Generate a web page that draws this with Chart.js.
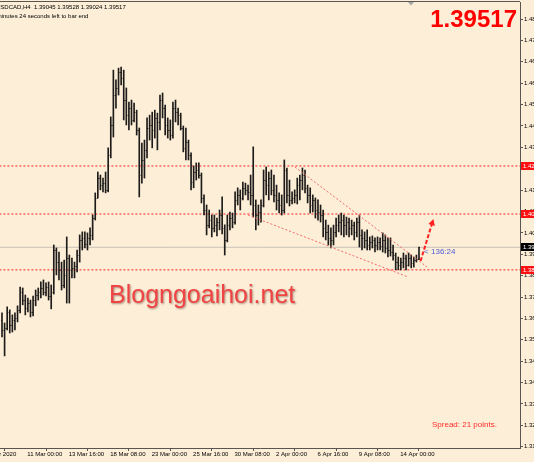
<!DOCTYPE html>
<html>
<head>
<meta charset="utf-8">
<script src="https://cdn.jsdelivr.net/npm/chart.js@4.4.1/dist/chart.umd.min.js"></script>
<style>
  html, body { margin: 0; padding: 0; background: #fdeed7; }
  #wrap { width: 534px; height: 462px; }
</style>
</head>
<body>
<div id="wrap"><canvas id="chart" width="534" height="462"></canvas></div>
<script>
// USDCAD, H4 - one entry per bar, 9 Mar 12:00 .. 15 Apr 08:00 (2020)
const opens = [
  1.3663, 1.3623, 1.3631, 1.3695, 1.3643, 1.3663, 1.3671, 1.3703, 1.3774, 1.3742,
  1.3710, 1.3730, 1.3695, 1.3742, 1.3762, 1.3774, 1.3790, 1.3774, 1.3794, 1.3758,
  1.3774, 1.3941, 1.3893, 1.3862, 1.3802, 1.3842, 1.3909, 1.3862, 1.3870, 1.3877,
  1.3921, 1.3981, 1.3989, 1.3965, 1.3989, 1.4001, 1.4068, 1.4148, 1.4227, 1.4199,
  1.4207, 1.4180, 1.4319, 1.4438, 1.4557, 1.4585, 1.4648, 1.4625, 1.4537, 1.4477,
  1.4505, 1.4458, 1.4489, 1.4418, 1.4239, 1.4299, 1.4339, 1.4426, 1.4438, 1.4418,
  1.4466, 1.4450, 1.4537, 1.4505, 1.4438, 1.4418, 1.4398, 1.4505, 1.4489, 1.4477,
  1.4426, 1.4347, 1.4370, 1.4319, 1.4211, 1.4251, 1.4259, 1.4239, 1.4148, 1.4100,
  1.4040, 1.4060, 1.4029, 1.4040, 1.4052, 1.4080, 1.4029, 1.3981, 1.4040, 1.4068,
  1.4052, 1.4140, 1.4160, 1.4148, 1.4188, 1.4180, 1.4172, 1.4160, 1.4120, 1.4080,
  1.4092, 1.4120, 1.4219, 1.4199, 1.4227, 1.4180, 1.4160, 1.4140, 1.4120, 1.4100,
  1.4259, 1.4160, 1.4140, 1.4148, 1.4160, 1.4199, 1.4219, 1.4239, 1.4188, 1.4160,
  1.4120, 1.4140, 1.4100, 1.4092, 1.4080, 1.4029, 1.4013, 1.3989, 1.3981, 1.4013,
  1.4040, 1.4052, 1.4060, 1.4040, 1.4052, 1.4029, 1.4040, 1.4013, 1.4052, 1.4001,
  1.3989, 1.3981, 1.3961, 1.3973, 1.3981, 1.3961, 1.3973, 1.3957, 1.3981, 1.3949,
  1.3941, 1.3933, 1.3921, 1.3893, 1.3881, 1.3893, 1.3909, 1.3881, 1.3909, 1.3889,
  1.3901, 1.39045
];
const highs = [
  1.3691, 1.3651, 1.3715, 1.3703, 1.3683, 1.3691, 1.3719, 1.3794, 1.3790, 1.3762,
  1.3750, 1.3742, 1.3758, 1.3782, 1.3790, 1.3814, 1.3822, 1.3810, 1.3814, 1.3802,
  1.3961, 1.3949, 1.3933, 1.3893, 1.3901, 1.3993, 1.3921, 1.3909, 1.3893, 1.3941,
  1.4001, 1.4013, 1.4013, 1.4009, 1.4029, 1.4080, 1.4168, 1.4251, 1.4239, 1.4227,
  1.4251, 1.4347, 1.4470, 1.4656, 1.4617, 1.4664, 1.4668, 1.4656, 1.4585, 1.4529,
  1.4537, 1.4525, 1.4497, 1.4426, 1.4366, 1.4378, 1.4466, 1.4477, 1.4489, 1.4497,
  1.4485, 1.4557, 1.4565, 1.4517, 1.4466, 1.4458, 1.4529, 1.4537, 1.4505, 1.4485,
  1.4434, 1.4426, 1.4378, 1.4327, 1.4275, 1.4287, 1.4287, 1.4247, 1.4160, 1.4120,
  1.4100, 1.4080, 1.4080, 1.4068, 1.4100, 1.4152, 1.4041, 1.4080, 1.4092, 1.4088,
  1.4172, 1.4188, 1.4180, 1.4211, 1.4207, 1.4199, 1.4239, 1.4351, 1.4140, 1.4120,
  1.4140, 1.4259, 1.4271, 1.4251, 1.4259, 1.4239, 1.4199, 1.4168, 1.4160, 1.4299,
  1.4267, 1.4219, 1.4172, 1.4180, 1.4227, 1.4239, 1.4267, 1.4259, 1.4199, 1.4188,
  1.4160, 1.4148, 1.4140, 1.4120, 1.4100, 1.4060, 1.4040, 1.4029, 1.4040, 1.4068,
  1.4080, 1.4088, 1.4080, 1.4072, 1.4068, 1.4060, 1.4052, 1.4068, 1.4080, 1.4021,
  1.4013, 1.4021, 1.3993, 1.3997, 1.3989, 1.3993, 1.3989, 1.4009, 1.4001, 1.3989,
  1.3989, 1.3961, 1.3929, 1.3913, 1.3909, 1.3929, 1.3921, 1.3929, 1.3921, 1.3913,
  1.3921, 1.39528
];
const lows = [
  1.3595, 1.3520, 1.3623, 1.3611, 1.3615, 1.3623, 1.3655, 1.3691, 1.3723, 1.3683,
  1.3695, 1.3675, 1.3679, 1.3719, 1.3742, 1.3750, 1.3762, 1.3758, 1.3742, 1.3707,
  1.3766, 1.3842, 1.3822, 1.3782, 1.3790, 1.3730, 1.3730, 1.3830, 1.3830, 1.3854,
  1.3893, 1.3941, 1.3949, 1.3941, 1.3961, 1.3981, 1.4060, 1.4148, 1.4180, 1.4172,
  1.4168, 1.4172, 1.4307, 1.4390, 1.4505, 1.4557, 1.4597, 1.4458, 1.4438, 1.4418,
  1.4438, 1.4450, 1.4398, 1.4152, 1.4207, 1.4227, 1.4307, 1.4378, 1.4347, 1.4386,
  1.4339, 1.4418, 1.4466, 1.4398, 1.4386, 1.4378, 1.4386, 1.4450, 1.4438, 1.4418,
  1.4331, 1.4299, 1.4299, 1.4180, 1.4188, 1.4219, 1.4227, 1.4128, 1.4080, 1.4001,
  1.4029, 1.3993, 1.4013, 1.3997, 1.4021, 1.4005, 1.3921, 1.3973, 1.4021, 1.4029,
  1.4044, 1.4120, 1.4100, 1.4140, 1.4160, 1.4140, 1.4120, 1.4072, 1.4021, 1.4040,
  1.4052, 1.4112, 1.4160, 1.4140, 1.4160, 1.4132, 1.4100, 1.4088, 1.4080, 1.4088,
  1.4128, 1.4116, 1.4124, 1.4128, 1.4124, 1.4140, 1.4180, 1.4168, 1.4128, 1.4088,
  1.4092, 1.4068, 1.4060, 1.4052, 1.3993, 1.3981, 1.3961, 1.3949, 1.3961, 1.3993,
  1.4013, 1.4001, 1.3993, 1.4001, 1.3993, 1.4001, 1.3981, 1.3993, 1.3953, 1.3941,
  1.3949, 1.3941, 1.3941, 1.3949, 1.3933, 1.3941, 1.3941, 1.3933, 1.3929, 1.3913,
  1.3917, 1.3901, 1.3862, 1.3862, 1.3862, 1.3870, 1.3862, 1.3877, 1.3870, 1.3873,
  1.3893, 1.39024
];
const closes = [
  1.3623, 1.3631, 1.3695, 1.3643, 1.3663, 1.3671, 1.3703, 1.3774, 1.3742, 1.3710,
  1.3730, 1.3695, 1.3742, 1.3762, 1.3774, 1.3790, 1.3774, 1.3794, 1.3758, 1.3774,
  1.3941, 1.3893, 1.3862, 1.3802, 1.3842, 1.3909, 1.3862, 1.3870, 1.3877, 1.3921,
  1.3981, 1.3989, 1.3965, 1.3989, 1.4001, 1.4068, 1.4148, 1.4227, 1.4199, 1.4207,
  1.4180, 1.4319, 1.4438, 1.4557, 1.4585, 1.4648, 1.4625, 1.4537, 1.4477, 1.4505,
  1.4458, 1.4489, 1.4418, 1.4239, 1.4299, 1.4339, 1.4426, 1.4438, 1.4418, 1.4466,
  1.4450, 1.4537, 1.4505, 1.4438, 1.4418, 1.4398, 1.4505, 1.4489, 1.4477, 1.4426,
  1.4347, 1.4370, 1.4319, 1.4211, 1.4251, 1.4259, 1.4239, 1.4148, 1.4100, 1.4040,
  1.4060, 1.4029, 1.4040, 1.4052, 1.4080, 1.4029, 1.3981, 1.4040, 1.4068, 1.4052,
  1.4140, 1.4160, 1.4148, 1.4188, 1.4180, 1.4172, 1.4160, 1.4120, 1.4080, 1.4092,
  1.4120, 1.4219, 1.4199, 1.4227, 1.4180, 1.4160, 1.4140, 1.4120, 1.4100, 1.4259,
  1.4160, 1.4140, 1.4148, 1.4160, 1.4199, 1.4219, 1.4239, 1.4188, 1.4160, 1.4120,
  1.4140, 1.4100, 1.4092, 1.4080, 1.4029, 1.4013, 1.3989, 1.3981, 1.4013, 1.4040,
  1.4052, 1.4060, 1.4040, 1.4052, 1.4029, 1.4040, 1.4013, 1.4052, 1.4001, 1.3989,
  1.3981, 1.3961, 1.3973, 1.3981, 1.3961, 1.3973, 1.3957, 1.3981, 1.3949, 1.3941,
  1.3933, 1.3921, 1.3893, 1.3881, 1.3893, 1.3909, 1.3881, 1.3909, 1.3889, 1.3901,
  1.3905, 1.39517
];

// price axis labels (right side)
const priceTicks = [
  1.3159, 1.3244, 1.3329, 1.3414, 1.3499, 1.3584, 1.3669, 1.3754, 1.3839, 1.3924,
  1.4009, 1.4094, 1.4179, 1.4264, 1.4349, 1.4434, 1.4519, 1.4604, 1.4689, 1.4774, 1.4859
];
// time axis: bar index of each label
const timeTickBars = [-7, 9, 25, 41, 57, 73, 89, 105, 121, 137, 153];
const timeTickLabels = [
  '6 Mar 2020', '11 Mar 00:00', '13 Mar 16:00', '18 Mar 08:00', '23 Mar 00:00',
  '25 Mar 16:00', '30 Mar 08:00', '2 Apr 00:00', '6 Apr 16:00', '9 Apr 08:00', '14 Apr 00:00'
];

// drawn objects
const levels = [1.4275, 1.4084, 1.3862];
const lastPrice = 1.39517;
const channelTop = [[113.1, 1.42709], [164.1, 1.38734]];
const channelBottom = [[95.0, 1.40801], [156.8, 1.38337]];
const arrowPath = [[161.6, 1.3897], [166.0, 1.4045]];

const BG = '#fdeed7';
const BAR = '#1e1c1a';
const AXIS = '#5a5550';
const RED = '#ff2020';
const FONT = 'Liberation Sans, Arial, sans-serif';

const toPts = arr => arr.map(p => ({ x: p[0], y: p[1] }));
const hLine = v => [{ x: -1, y: v }, { x: 200, y: v }];

// keep the plot area flush with the canvas edges, like the terminal
const noPad = s => { s.paddingLeft = 0; s.paddingRight = 0; s.paddingTop = 0; s.paddingBottom = 0; };

const mt4Decor = {
  id: 'mt4Decor',
  beforeDraw(chart) {
    const ctx = chart.ctx;
    ctx.save();
    ctx.fillStyle = BG;
    ctx.fillRect(0, 0, chart.width, chart.height);
    ctx.restore();
  },
  afterDatasetsDraw(chart) {
    const { ctx, chartArea: a, scales: { x, y } } = chart;
    ctx.save();
    ctx.beginPath();
    ctx.rect(a.left, a.top, a.right - a.left, a.bottom - a.top);
    ctx.clip();

    // open / close ticks of each bar
    ctx.strokeStyle = BAR;
    ctx.lineWidth = 1;
    ctx.beginPath();
    opens.forEach((o, i) => {
      const px = x.getPixelForValue(i);
      const yo = Math.round(y.getPixelForValue(o)) + 0.5;
      const yc = Math.round(y.getPixelForValue(closes[i])) + 0.5;
      ctx.moveTo(px - 1, yo); ctx.lineTo(px, yo);
      ctx.moveTo(px, yc); ctx.lineTo(px + 1, yc);
    });
    ctx.stroke();

    // arrow head
    const p0 = { x: x.getPixelForValue(arrowPath[0][0]), y: y.getPixelForValue(arrowPath[0][1]) };
    const p1 = { x: x.getPixelForValue(arrowPath[1][0]), y: y.getPixelForValue(arrowPath[1][1]) };
    const ang = Math.atan2(p1.y - p0.y, p1.x - p0.x);
    const tip = { x: p1.x + Math.cos(ang) * 5, y: p1.y + Math.sin(ang) * 5 };
    ctx.fillStyle = RED;
    ctx.beginPath();
    ctx.moveTo(tip.x, tip.y);
    ctx.lineTo(tip.x - Math.cos(ang - 0.5) * 7, tip.y - Math.sin(ang - 0.5) * 7);
    ctx.lineTo(tip.x - Math.cos(ang + 0.5) * 7, tip.y - Math.sin(ang + 0.5) * 7);
    ctx.closePath();
    ctx.fill();
    ctx.restore();
  },
  afterDraw(chart) {
    const { ctx, chartArea: a, scales: { y } } = chart;
    ctx.save();

    // frame top + shift marker
    ctx.strokeStyle = AXIS;
    ctx.lineWidth = 1;
    ctx.beginPath();
    ctx.moveTo(0, 1.5); ctx.lineTo(a.right, 1.5);
    ctx.stroke();
    ctx.fillStyle = '#a8a8a8';
    ctx.beginPath();
    ctx.moveTo(408, 2); ctx.lineTo(414, 2); ctx.lineTo(411, 5.5);
    ctx.closePath();
    ctx.fill();

    // price labels on the axis
    ctx.font = '6px ' + FONT;
    ctx.textBaseline = 'middle';
    const tag = (v, bg) => {
      const py = Math.round(y.getPixelForValue(v));
      ctx.fillStyle = bg;
      ctx.fillRect(a.right + 1, py - 4, 20, 8);
      ctx.fillStyle = '#ffffff';
      ctx.fillText(v.toFixed(5), a.right + 3, py);
    };
    levels.forEach(v => tag(v, '#ff1010'));
    tag(lastPrice, '#000000');

    // header
    ctx.fillStyle = '#000000';
    ctx.textBaseline = 'alphabetic';
    ctx.font = '6px ' + FONT;
    ctx.fillText('USDCAD,H4  1.39045 1.39528 1.39024 1.39517', -4, 8.5);
    ctx.fillText('136 minutes 24 seconds left to bar end', -15, 17.5);

    // big bid
    ctx.fillStyle = '#ff0000';
    ctx.font = 'bold 24px ' + FONT;
    ctx.textAlign = 'right';
    ctx.fillText('1.39517', 517, 27);
    ctx.textAlign = 'left';

    // countdown
    ctx.fillStyle = '#4b5bd6';
    ctx.font = '8px ' + FONT;
    ctx.fillText('<', 424, 254);
    ctx.fillText('136:24', 431, 254);

    // spread
    ctx.fillStyle = '#ff2a2a';
    ctx.fillText('Spread: 21 points.', 432, 427);

    // watermark
    ctx.font = '25px ' + FONT;
    ctx.shadowColor = 'rgba(110, 60, 50, 0.55)';
    ctx.shadowBlur = 2;
    ctx.shadowOffsetX = 1;
    ctx.shadowOffsetY = 1;
    ctx.fillStyle = '#f04444';
    ctx.fillText('Blogngoaihoi.net', 109, 303);
    ctx.restore();
  }
};

new Chart(document.getElementById('chart'), {
  type: 'bar',
  data: {
    datasets: [
      {
        type: 'bar',
        data: lows.map((l, i) => ({ x: i, y: [l, highs[i]] })),
        backgroundColor: BAR,
        borderWidth: 0,
        barThickness: 1,
        order: 5
      },
      ...levels.map(v => ({
        type: 'line', data: hLine(v), borderColor: RED, borderWidth: 1,
        borderDash: [2, 2], pointRadius: 0, order: 6
      })),
      {
        type: 'line', data: hLine(lastPrice), borderColor: '#c9c2b6', borderWidth: 1,
        pointRadius: 0, order: 7
      },
      {
        type: 'line', data: toPts(channelTop), borderColor: '#f36a6a', borderWidth: 1,
        borderDash: [2, 2], pointRadius: 0, order: 1
      },
      {
        type: 'line', data: toPts(channelBottom), borderColor: '#f36a6a', borderWidth: 1,
        borderDash: [2, 2], pointRadius: 0, order: 1
      },
      {
        type: 'line', data: toPts(arrowPath), borderColor: RED, borderWidth: 2,
        borderDash: [4, 2], pointRadius: 0, order: 0
      }
    ]
  },
  options: {
    responsive: false,
    animation: false,
    events: [],
    layout: { padding: { top: 2, left: 0, right: 0, bottom: 0 } },
    plugins: { legend: { display: false }, tooltip: { enabled: false } },
    scales: {
      x: {
        type: 'linear',
        min: -0.77,
        max: 200,
        offset: false,
        afterFit: s => { s.height = 14; noPad(s); },
        afterBuildTicks: s => { s.ticks = timeTickBars.map(v => ({ value: v })); },
        ticks: {
          callback: v => timeTickLabels[timeTickBars.indexOf(v)],
          align: 'start',
          labelOffset: 2,
          padding: 0,
          autoSkip: false,
          minRotation: 0,
          maxRotation: 0,
          color: '#000000',
          font: { family: FONT, size: 6 }
        },
        grid: { drawOnChartArea: false, tickLength: 3, color: AXIS },
        border: { color: AXIS, width: 1 }
      },
      y: {
        position: 'right',
        min: 1.31539,
        max: 1.49268,
        beginAtZero: false,
        afterFit: s => { s.width = 14; noPad(s); },
        afterBuildTicks: s => { s.ticks = priceTicks.map(v => ({ value: v })); },
        ticks: {
          callback: v => v.toFixed(5),
          padding: 1,
          autoSkip: false,
          color: '#000000',
          font: { family: FONT, size: 6 }
        },
        grid: { drawOnChartArea: false, tickLength: 3, color: AXIS },
        border: { color: AXIS, width: 1 }
      }
    }
  },
  plugins: [mt4Decor]
});
</script>
</body>
</html>
